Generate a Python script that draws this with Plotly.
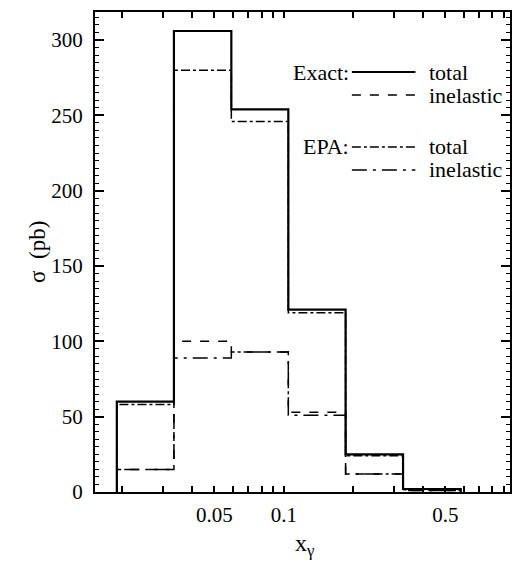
import plotly.graph_objects as go

# ---- data ----
bin_edges = [0.0189, 0.0334, 0.0592, 0.1045, 0.185, 0.328, 0.583]
exact_total = [60, 306, 254, 121, 25, 2]
exact_inelastic = [15, 100, 93, 53, 12, 1]
epa_total = [58, 280, 246, 119, 24, 1.5]
epa_inelastic = [15, 89, 93, 51, 12, 1]

x_major_ticks = [0.05, 0.1, 0.5]
x_major_labels = ["0.05", "0.1", "0.5"]
x_minor_ticks = [0.02, 0.03, 0.04, 0.06, 0.07, 0.08, 0.09,
                 0.2, 0.3, 0.4, 0.6, 0.7, 0.8, 0.9]
y_tickvals = [0, 50, 100, 150, 200, 250, 300]

FONT = "Liberation Serif"


def step_xy(edges, vals):
    xs = [edges[0]] + list(edges)
    ys = [0] + list(vals) + [0]
    return xs, ys


series = [
    (exact_total, dict(color="black", width=2.2, dash="solid")),
    (exact_inelastic, dict(color="black", width=1.5, dash="dash")),
    (epa_total, dict(color="black", width=1.5, dash="dashdot")),
    (epa_inelastic, dict(color="black", width=1.5, dash="longdashdot")),
]

fig = go.Figure()
for vals, ln in series:
    xs, ys = step_xy(bin_edges, vals)
    fig.add_trace(go.Scatter(x=xs, y=ys, mode="lines", line_shape="hv",
                             line=ln, showlegend=False, hoverinfo="skip"))

# legend drawn by hand (paper coordinates)
legend_rows = [
    ("Exact:", "total", dict(color="black", width=2.2, dash="solid"), 0.875),
    ("", "inelastic", dict(color="black", width=1.5, dash="dash"), 0.827),
    ("EPA:", "total", dict(color="black", width=1.5, dash="dashdot"), 0.719),
    ("", "inelastic", dict(color="black", width=1.5, dash="longdashdot"), 0.671),
]
for head, lab, ln, yy in legend_rows:
    fig.add_shape(type="line", xref="paper", yref="paper",
                  x0=0.619, x1=0.772, y0=yy, y1=yy, line=ln)
    fig.add_annotation(xref="paper", yref="paper", x=0.800, y=yy,
                       text=lab, showarrow=False, xanchor="left",
                       yanchor="middle", font=dict(family=FONT, size=22, color="black"))
    if head:
        fig.add_annotation(xref="paper", yref="paper", x=0.618, y=yy,
                           text=head, showarrow=False, xanchor="right",
                           yanchor="middle", font=dict(family=FONT, size=22, color="black"))

# axis titles
fig.add_annotation(xref="paper", yref="paper", x=-0.14, y=0.5,
                   text="σ  (pb)", textangle=-90, showarrow=False,
                   xanchor="center", yanchor="middle",
                   font=dict(family=FONT, size=23, color="black"))
fig.add_annotation(xref="paper", yref="paper", x=0.505, y=-0.110,
                   text="x<sub>γ</sub>", showarrow=False,
                   xanchor="center", yanchor="middle",
                   font=dict(family=FONT, size=24, color="black"))

fig.update_xaxes(
    type="log", range=[-1.818, -0.021],
    tickvals=x_major_ticks, ticktext=x_major_labels,
    ticks="inside", ticklen=6, tickwidth=1.5, tickcolor="black",
    minor=dict(tickvals=x_minor_ticks, ticks="inside", ticklen=6,
               tickwidth=1.5, tickcolor="black", showgrid=False),
    showline=True, linecolor="black", linewidth=2, mirror="allticks",
    showgrid=False, zeroline=False,
    tickfont=dict(family=FONT, size=21, color="black"),
    ticklabelstandoff=3,
)
fig.update_yaxes(
    range=[0, 318.6],
    tickvals=y_tickvals,
    ticks="inside", ticklen=9, tickwidth=1.5, tickcolor="black",
    minor=dict(dtick=5, ticks="inside", ticklen=4, tickcolor="black", tickwidth=1),
    showline=True, linecolor="black", linewidth=2, mirror="allticks",
    showgrid=False, zeroline=False,
    tickfont=dict(family=FONT, size=21, color="black"),
    ticklabelstandoff=6,
)
fig.update_layout(
    width=514, height=568,
    margin=dict(l=95, r=2, t=12, b=76),
    plot_bgcolor="white", paper_bgcolor="white",
    showlegend=False,
)
fig.write_html("out.html")
